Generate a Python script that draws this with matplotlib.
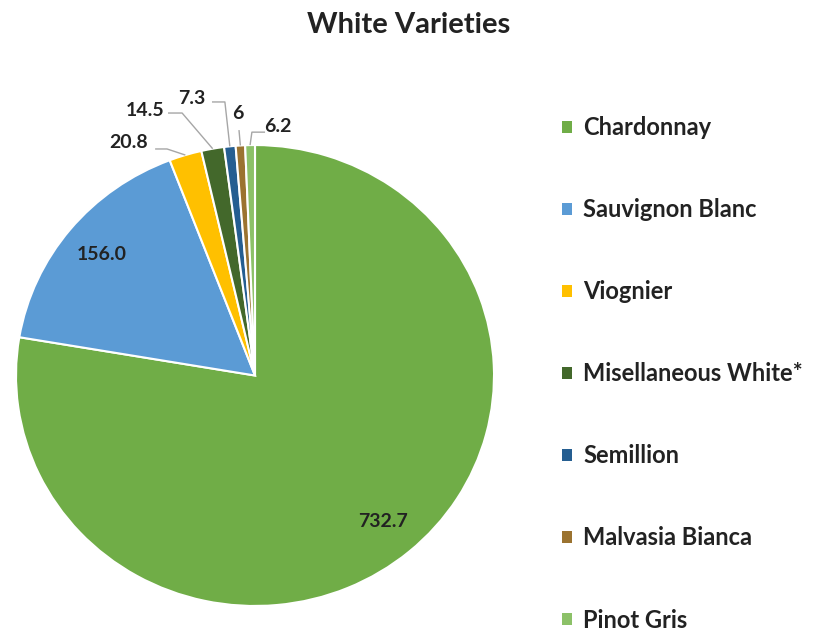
import numpy as np
import matplotlib
matplotlib.use("Agg")
import matplotlib.pyplot as plt

labels = ["Chardonnay", "Sauvignon Blanc", "Viognier", "Misellaneous White*",
          "Semillion", "Malvasia Bianca", "Pinot Gris"]
values = [732.7, 156.0, 20.8, 14.5, 7.3, 6, 6.2]
value_text = ["732.7", "156.0", "20.8", "14.5", "7.3", "6", "6.2"]
colors = ["#70AD47", "#5B9BD5", "#FFC000", "#43682B", "#255E91", "#9B7330", "#8CC168"]

plt.rcParams['font.family'] = ['Lato', 'DejaVu Sans']

fig = plt.figure(figsize=(8.25, 6.34), dpi=100)
ax = fig.add_axes([0.0194, 0.0442, 0.5794, 0.727])
wedges, _ = ax.pie(values, colors=colors, startangle=90, counterclock=False,
                   wedgeprops=dict(edgecolor="white", linewidth=1.5))
ax.set_xlim(-1, 1)
ax.set_ylim(-1, 1)
ax.set_aspect('auto')

# inside labels
inside = {0: 0.83, 1: 0.83}
for i, r in inside.items():
    w = wedges[i]
    th = np.deg2rad((w.theta1 + w.theta2) / 2)
    ax.text(r * np.cos(th), r * np.sin(th), value_text[i], ha='center', va='center',
            fontsize=14, fontweight='bold', color='#222222')

# outside labels with leader lines: (text pos, line start, elbow)
outside = {
    2: ((-0.531, 1.009), (-0.418, 0.983), (-0.368, 0.983)),
    3: ((-0.460, 1.152), (-0.364, 1.139), (-0.305, 1.139)),
    4: ((-0.264, 1.204), (-0.180, 1.187), (-0.126, 1.187)),
    5: ((-0.071, 1.139), (-0.067, 1.065), (-0.067, 1.065)),
    6: ((0.096, 1.082), (0.042, 1.056), (-0.013, 1.056)),
}
for i, (tp, ls, el) in outside.items():
    w = wedges[i]
    th = np.deg2rad((w.theta1 + w.theta2) / 2)
    ex, ey = np.cos(th), np.sin(th)
    ax.plot([ls[0], el[0], ex], [ls[1], el[1], ey], color='#A6A6A6', lw=1.0,
            clip_on=False, solid_capstyle='butt')
    ax.text(tp[0], tp[1], value_text[i], ha='center', va='center',
            fontsize=14, fontweight='bold', color='#222222')

fig.text(0.495, 0.961, "White Varieties", ha='center', va='center',
         fontsize=21, fontweight='bold', color='#222222')

leg = fig.legend(wedges, labels, loc='upper left', bbox_to_anchor=(0.681, 0.8165),
                 frameon=False, borderpad=0, borderaxespad=0,
                 handlelength=0.45, handleheight=0.45,
                 handletextpad=0.45, labelspacing=2.5,
                 prop=dict(size=17, weight='bold'), labelcolor='#222222')
for h in leg.legend_handles:
    h.set_edgecolor('none')

fig.savefig("out.png", dpi=100)
